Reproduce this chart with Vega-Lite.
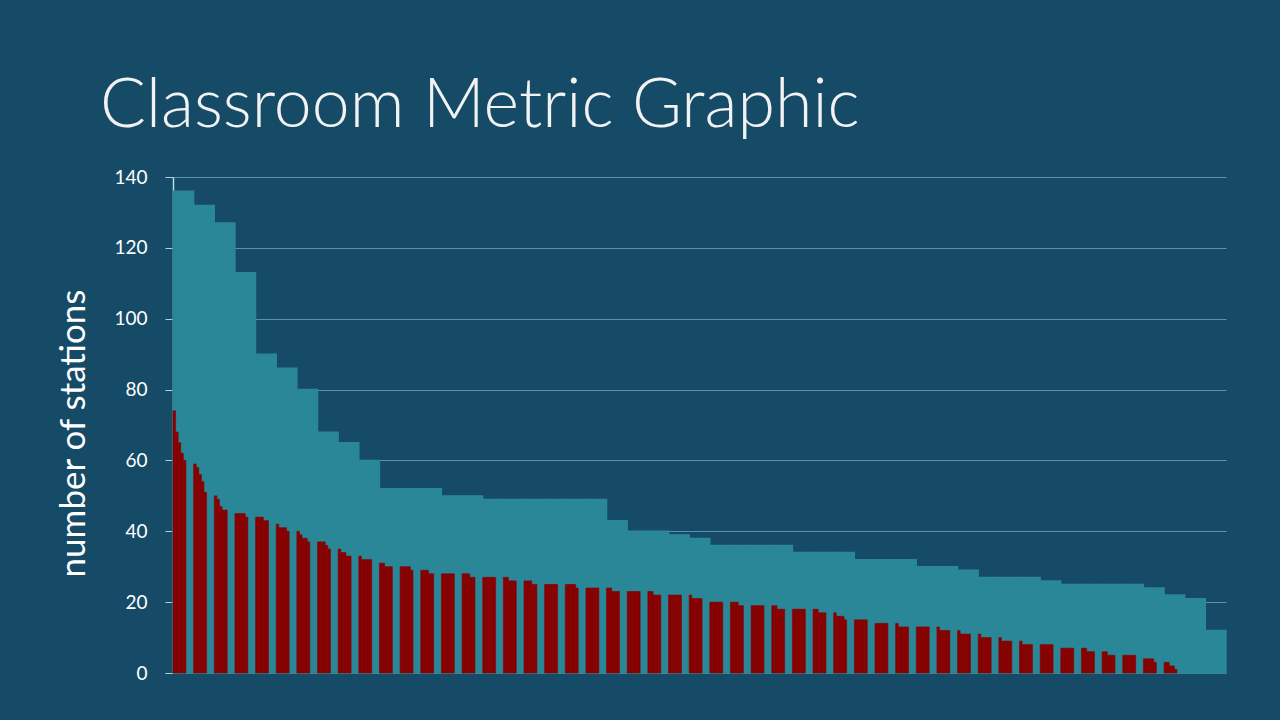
{
  "$schema": "https://vega.github.io/schema/vega-lite/v6.json",
  "width": 1053,
  "height": 496,
  "autosize": {"type": "none"},
  "padding": {"left": 173, "top": 177, "right": 54, "bottom": 47},
  "background": "#164b68",
  "config": {"view": {"stroke": null}, "font": "Lato"},
  "title": {
    "text": "Classroom Metric Graphic",
    "anchor": "start",
    "frame": "group",
    "dx": -73,
    "dy": 76,
    "offset": 49,
    "baseline": "alphabetic",
    "fontSize": 68,
    "font": "Lato",
    "fontWeight": 300,
    "color": "#f2f2f2"
  },
  "datasets": {
    "total": [
      {"col": 0, "value": 136}, {"col": 1, "value": 132}, {"col": 2, "value": 127}, {"col": 3, "value": 113},
      {"col": 4, "value": 90}, {"col": 5, "value": 86}, {"col": 6, "value": 80}, {"col": 7, "value": 68},
      {"col": 8, "value": 65}, {"col": 9, "value": 60}, {"col": 10, "value": 52}, {"col": 11, "value": 52},
      {"col": 12, "value": 52}, {"col": 13, "value": 50}, {"col": 14, "value": 50}, {"col": 15, "value": 49},
      {"col": 16, "value": 49}, {"col": 17, "value": 49}, {"col": 18, "value": 49}, {"col": 19, "value": 49},
      {"col": 20, "value": 49}, {"col": 21, "value": 43}, {"col": 22, "value": 40}, {"col": 23, "value": 40},
      {"col": 24, "value": 39}, {"col": 25, "value": 38}, {"col": 26, "value": 36}, {"col": 27, "value": 36},
      {"col": 28, "value": 36}, {"col": 29, "value": 36}, {"col": 30, "value": 34}, {"col": 31, "value": 34},
      {"col": 32, "value": 34}, {"col": 33, "value": 32}, {"col": 34, "value": 32}, {"col": 35, "value": 32},
      {"col": 36, "value": 30}, {"col": 37, "value": 30}, {"col": 38, "value": 29}, {"col": 39, "value": 27},
      {"col": 40, "value": 27}, {"col": 41, "value": 27}, {"col": 42, "value": 26}, {"col": 43, "value": 25},
      {"col": 44, "value": 25}, {"col": 45, "value": 25}, {"col": 46, "value": 25}, {"col": 47, "value": 24},
      {"col": 48, "value": 22}, {"col": 49, "value": 21}, {"col": 50, "value": 12}
    ],
    "detail": [
      {"col":0,"sub":0,"value":74},{"col":0,"sub":1,"value":68},{"col":0,"sub":2,"value":65},{"col":0,"sub":3,"value":62},{"col":0,"sub":4,"value":60},
      {"col":1,"sub":0,"value":59},{"col":1,"sub":1,"value":58},{"col":1,"sub":2,"value":56},{"col":1,"sub":3,"value":54},{"col":1,"sub":4,"value":51},
      {"col":2,"sub":0,"value":50},{"col":2,"sub":1,"value":49},{"col":2,"sub":2,"value":47},{"col":2,"sub":3,"value":46},{"col":2,"sub":4,"value":46},
      {"col":3,"sub":0,"value":45},{"col":3,"sub":1,"value":45},{"col":3,"sub":2,"value":45},{"col":3,"sub":3,"value":45},{"col":3,"sub":4,"value":44},
      {"col":4,"sub":0,"value":44},{"col":4,"sub":1,"value":44},{"col":4,"sub":2,"value":44},{"col":4,"sub":3,"value":43},{"col":4,"sub":4,"value":43},
      {"col":5,"sub":0,"value":42},{"col":5,"sub":1,"value":41},{"col":5,"sub":2,"value":41},{"col":5,"sub":3,"value":41},{"col":5,"sub":4,"value":40},
      {"col":6,"sub":0,"value":40},{"col":6,"sub":1,"value":39},{"col":6,"sub":2,"value":38},{"col":6,"sub":3,"value":38},{"col":6,"sub":4,"value":37},
      {"col":7,"sub":0,"value":37},{"col":7,"sub":1,"value":37},{"col":7,"sub":2,"value":37},{"col":7,"sub":3,"value":36},{"col":7,"sub":4,"value":35},
      {"col":8,"sub":0,"value":35},{"col":8,"sub":1,"value":34},{"col":8,"sub":2,"value":34},{"col":8,"sub":3,"value":33},{"col":8,"sub":4,"value":33},
      {"col":9,"sub":0,"value":33},{"col":9,"sub":1,"value":32},{"col":9,"sub":2,"value":32},{"col":9,"sub":3,"value":32},{"col":9,"sub":4,"value":32},
      {"col":10,"sub":0,"value":31},{"col":10,"sub":1,"value":31},{"col":10,"sub":2,"value":30},{"col":10,"sub":3,"value":30},{"col":10,"sub":4,"value":30},
      {"col":11,"sub":0,"value":30},{"col":11,"sub":1,"value":30},{"col":11,"sub":2,"value":30},{"col":11,"sub":3,"value":30},{"col":11,"sub":4,"value":29},
      {"col":12,"sub":0,"value":29},{"col":12,"sub":1,"value":29},{"col":12,"sub":2,"value":29},{"col":12,"sub":3,"value":28},{"col":12,"sub":4,"value":28},
      {"col":13,"sub":0,"value":28},{"col":13,"sub":1,"value":28},{"col":13,"sub":2,"value":28},{"col":13,"sub":3,"value":28},{"col":13,"sub":4,"value":28},
      {"col":14,"sub":0,"value":28},{"col":14,"sub":1,"value":28},{"col":14,"sub":2,"value":28},{"col":14,"sub":3,"value":27},{"col":14,"sub":4,"value":27},
      {"col":15,"sub":0,"value":27},{"col":15,"sub":1,"value":27},{"col":15,"sub":2,"value":27},{"col":15,"sub":3,"value":27},{"col":15,"sub":4,"value":27},
      {"col":16,"sub":0,"value":27},{"col":16,"sub":1,"value":27},{"col":16,"sub":2,"value":26},{"col":16,"sub":3,"value":26},{"col":16,"sub":4,"value":26},
      {"col":17,"sub":0,"value":26},{"col":17,"sub":1,"value":26},{"col":17,"sub":2,"value":26},{"col":17,"sub":3,"value":25},{"col":17,"sub":4,"value":25},
      {"col":18,"sub":0,"value":25},{"col":18,"sub":1,"value":25},{"col":18,"sub":2,"value":25},{"col":18,"sub":3,"value":25},{"col":18,"sub":4,"value":25},
      {"col":19,"sub":0,"value":25},{"col":19,"sub":1,"value":25},{"col":19,"sub":2,"value":25},{"col":19,"sub":3,"value":25},{"col":19,"sub":4,"value":24},
      {"col":20,"sub":0,"value":24},{"col":20,"sub":1,"value":24},{"col":20,"sub":2,"value":24},{"col":20,"sub":3,"value":24},{"col":20,"sub":4,"value":24},
      {"col":21,"sub":0,"value":24},{"col":21,"sub":1,"value":24},{"col":21,"sub":2,"value":23},{"col":21,"sub":3,"value":23},{"col":21,"sub":4,"value":23},
      {"col":22,"sub":0,"value":23},{"col":22,"sub":1,"value":23},{"col":22,"sub":2,"value":23},{"col":22,"sub":3,"value":23},{"col":22,"sub":4,"value":23},
      {"col":23,"sub":0,"value":23},{"col":23,"sub":1,"value":23},{"col":23,"sub":2,"value":22},{"col":23,"sub":3,"value":22},{"col":23,"sub":4,"value":22},
      {"col":24,"sub":0,"value":22},{"col":24,"sub":1,"value":22},{"col":24,"sub":2,"value":22},{"col":24,"sub":3,"value":22},{"col":24,"sub":4,"value":22},
      {"col":25,"sub":0,"value":22},{"col":25,"sub":1,"value":21},{"col":25,"sub":2,"value":21},{"col":25,"sub":3,"value":21},{"col":25,"sub":4,"value":21},
      {"col":26,"sub":0,"value":20},{"col":26,"sub":1,"value":20},{"col":26,"sub":2,"value":20},{"col":26,"sub":3,"value":20},{"col":26,"sub":4,"value":20},
      {"col":27,"sub":0,"value":20},{"col":27,"sub":1,"value":20},{"col":27,"sub":2,"value":20},{"col":27,"sub":3,"value":19},{"col":27,"sub":4,"value":19},
      {"col":28,"sub":0,"value":19},{"col":28,"sub":1,"value":19},{"col":28,"sub":2,"value":19},{"col":28,"sub":3,"value":19},{"col":28,"sub":4,"value":19},
      {"col":29,"sub":0,"value":19},{"col":29,"sub":1,"value":19},{"col":29,"sub":2,"value":18},{"col":29,"sub":3,"value":18},{"col":29,"sub":4,"value":18},
      {"col":30,"sub":0,"value":18},{"col":30,"sub":1,"value":18},{"col":30,"sub":2,"value":18},{"col":30,"sub":3,"value":18},{"col":30,"sub":4,"value":18},
      {"col":31,"sub":0,"value":18},{"col":31,"sub":1,"value":18},{"col":31,"sub":2,"value":17},{"col":31,"sub":3,"value":17},{"col":31,"sub":4,"value":17},
      {"col":32,"sub":0,"value":17},{"col":32,"sub":1,"value":16},{"col":32,"sub":2,"value":16},{"col":32,"sub":3,"value":16},{"col":32,"sub":4,"value":15},
      {"col":33,"sub":0,"value":15},{"col":33,"sub":1,"value":15},{"col":33,"sub":2,"value":15},{"col":33,"sub":3,"value":15},{"col":33,"sub":4,"value":15},
      {"col":34,"sub":0,"value":14},{"col":34,"sub":1,"value":14},{"col":34,"sub":2,"value":14},{"col":34,"sub":3,"value":14},{"col":34,"sub":4,"value":14},
      {"col":35,"sub":0,"value":14},{"col":35,"sub":1,"value":13},{"col":35,"sub":2,"value":13},{"col":35,"sub":3,"value":13},{"col":35,"sub":4,"value":13},
      {"col":36,"sub":0,"value":13},{"col":36,"sub":1,"value":13},{"col":36,"sub":2,"value":13},{"col":36,"sub":3,"value":13},{"col":36,"sub":4,"value":13},
      {"col":37,"sub":0,"value":13},{"col":37,"sub":1,"value":12},{"col":37,"sub":2,"value":12},{"col":37,"sub":3,"value":12},{"col":37,"sub":4,"value":12},
      {"col":38,"sub":0,"value":12},{"col":38,"sub":1,"value":11},{"col":38,"sub":2,"value":11},{"col":38,"sub":3,"value":11},{"col":38,"sub":4,"value":11},
      {"col":39,"sub":0,"value":11},{"col":39,"sub":1,"value":10},{"col":39,"sub":2,"value":10},{"col":39,"sub":3,"value":10},{"col":39,"sub":4,"value":10},
      {"col":40,"sub":0,"value":10},{"col":40,"sub":1,"value":9},{"col":40,"sub":2,"value":9},{"col":40,"sub":3,"value":9},{"col":40,"sub":4,"value":9},
      {"col":41,"sub":0,"value":9},{"col":41,"sub":1,"value":8},{"col":41,"sub":2,"value":8},{"col":41,"sub":3,"value":8},{"col":41,"sub":4,"value":8},
      {"col":42,"sub":0,"value":8},{"col":42,"sub":1,"value":8},{"col":42,"sub":2,"value":8},{"col":42,"sub":3,"value":8},{"col":42,"sub":4,"value":8},
      {"col":43,"sub":0,"value":7},{"col":43,"sub":1,"value":7},{"col":43,"sub":2,"value":7},{"col":43,"sub":3,"value":7},{"col":43,"sub":4,"value":7},
      {"col":44,"sub":0,"value":7},{"col":44,"sub":1,"value":7},{"col":44,"sub":2,"value":6},{"col":44,"sub":3,"value":6},{"col":44,"sub":4,"value":6},
      {"col":45,"sub":0,"value":6},{"col":45,"sub":1,"value":6},{"col":45,"sub":2,"value":5},{"col":45,"sub":3,"value":5},{"col":45,"sub":4,"value":5},
      {"col":46,"sub":0,"value":5},{"col":46,"sub":1,"value":5},{"col":46,"sub":2,"value":5},{"col":46,"sub":3,"value":5},{"col":46,"sub":4,"value":5},
      {"col":47,"sub":0,"value":4},{"col":47,"sub":1,"value":4},{"col":47,"sub":2,"value":4},{"col":47,"sub":3,"value":4},{"col":47,"sub":4,"value":3},
      {"col":48,"sub":0,"value":3},{"col":48,"sub":1,"value":3},{"col":48,"sub":2,"value":2},{"col":48,"sub":3,"value":2},{"col":48,"sub":4,"value":1}
    ]
  },
  "encoding": {
    "x": {"field": "col", "type": "ordinal", "sort": "ascending",
          "scale": {"paddingInner": 0, "paddingOuter": 0}, "axis": null},
    "y": {"field": "value", "type": "quantitative",
          "scale": {"domain": [0, 140], "nice": false, "zero": true},
          "axis": {
            "values": [0, 20, 40, 60, 80, 100, 120, 140],
            "title": "number of stations",
            "titleFontSize": 35,
            "titleFontWeight": "normal",
            "titleColor": "#ffffff",
            "titlePadding": 22,
            "titleY": 256,
            "labelFontSize": 19,
            "labelColor": "#ffffff",
            "labelPadding": 18,
            "tickSize": 8,
            "tickColor": "#a9d3e4",
            "domainColor": "#b5dbea",
            "domainWidth": 1.5,
            "grid": true,
            "gridColor": "#8cc0d8",
            "gridOpacity": 0.6,
            "gridWidth": 1
          }}
  },
  "layer": [
    {
      "data": {"name": "total"},
      "mark": {"type": "bar", "color": "#2a8797", "opacity": 1, "fillOpacity": 1, "stroke": "#2a8797", "strokeOpacity": 1, "strokeWidth": 1.4}
    },
    {
      "data": {"name": "detail"},
      "mark": {"type": "bar", "color": "#880000", "opacity": 1, "fillOpacity": 1, "stroke": "#880000", "strokeOpacity": 1, "strokeWidth": 0.6}
    ,
      "encoding": {
        "xOffset": {"field": "sub", "type": "ordinal",
                    "scale": {"domain": [0, 1, 2, 3, 4, 5, 6, 7], "paddingInner": 0, "paddingOuter": 0}}
      }
    }
  ]
}
